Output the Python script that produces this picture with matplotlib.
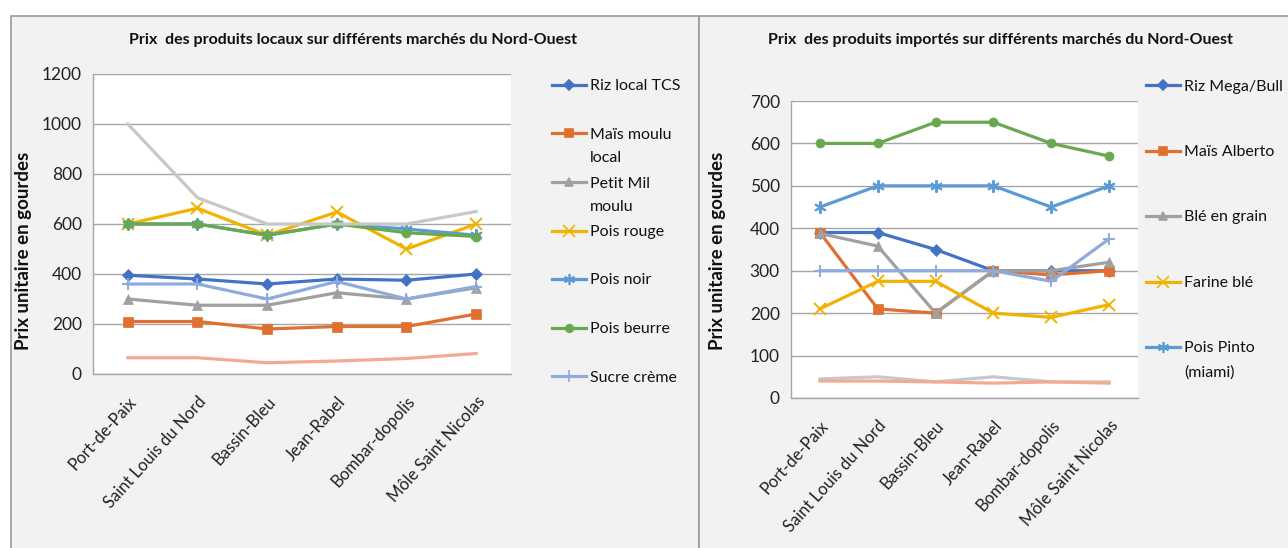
import numpy as np
import matplotlib.pyplot as plt
from matplotlib.patches import Rectangle
from matplotlib.lines import Line2D

plt.rcParams['font.family'] = ['Lato', 'DejaVu Sans']

marches = ['Port-de-Paix', 'Saint Louis du Nord', 'Bassin-Bleu', 'Jean-Rabel',
           'Bombar-dopolis', 'Môle Saint Nicolas']

# produits locaux
riz_local_tcs = [395, 380, 360, 380, 375, 400]
mais_moulu_local = [210, 210, 180, 190, 190, 240]
petit_mil_moulu = [300, 275, 275, 325, 300, 345]
pois_rouge = [600, 663, 555, 648, 500, 600]
pois_noir = [600, 600, 555, 600, 580, 555]
pois_beurre = [600, 600, 555, 600, 565, 550]
sucre_creme = [360, 360, 300, 370, 300, 350]
local_serie8 = [1000, 705, 600, 600, 600, 650]
local_serie9 = [65, 65, 45, 52, 62, 82]

# produits importes
riz_mega_bull = [390, 390, 350, 300, 300, 300]
mais_alberto = [390, 210, 200, 300, 290, 300]
ble_en_grain = [388, 358, 200, 300, 300, 320]
farine_ble = [210, 275, 275, 200, 190, 220]
pois_pinto = [450, 500, 500, 500, 450, 500]
import_serie6 = [600, 600, 650, 650, 600, 570]
import_serie7 = [300, 300, 300, 300, 275, 375]
import_serie8 = [45, 50, 38, 50, 38, 38]
import_serie9 = [40, 40, 38, 35, 38, 35]

BLUE = '#4472c4'
ORANGE = '#e07030'
GRAY = '#a0a0a0'
YELLOW = '#f2b200'
LBLUE = '#5b9bd5'
GREEN = '#6aa84f'
PALE = '#8faadc'
LGRAY = '#c8c8c8'
SALMON = '#f4aa90'

STAR = (6, 2, 0)

local_series = [
    ('Riz local TCS', riz_local_tcs, BLUE, 'D'),
    ('Maïs moulu\nlocal', mais_moulu_local, ORANGE, 's'),
    ('Petit Mil\nmoulu', petit_mil_moulu, GRAY, '^'),
    ('Pois rouge', pois_rouge, YELLOW, 'x'),
    ('Pois noir', pois_noir, LBLUE, STAR),
    ('Pois beurre', pois_beurre, GREEN, 'o'),
    ('Sucre crème', sucre_creme, PALE, '+'),
    (None, local_serie8, LGRAY, None),
    (None, local_serie9, SALMON, None),
]
import_series = [
    ('Riz Mega/Bull', riz_mega_bull, BLUE, 'D'),
    ('Maïs Alberto', mais_alberto, ORANGE, 's'),
    ('Blé en grain', ble_en_grain, GRAY, '^'),
    ('Farine blé', farine_ble, YELLOW, 'x'),
    ('Pois Pinto\n(miami)', pois_pinto, LBLUE, STAR),
    (None, import_serie6, GREEN, 'o'),
    (None, import_serie7, PALE, '+'),
    (None, import_serie8, LGRAY, None),
    (None, import_serie9, SALMON, None),
]

W, H = 1288, 548
fig = plt.figure(figsize=(W / 100, H / 100), dpi=100, facecolor='white')


def px(x, y, w, h):
    # pixel box (top-left origin) -> figure fraction
    return [x / W, 1 - (y + h) / H, w / W, h / H]


def msize(mk):
    return 6.5 if mk in ('D', 's', 'o', '^') else 9


# panel backgrounds
for x0, x1 in [(11, 699), (699, 1300)]:
    fig.patches.append(Rectangle((x0 / W, -0.1), (x1 - x0) / W, 1.1 - 16 / H,
                                 transform=fig.transFigure, facecolor='#f2f2f2',
                                 edgecolor='#9a9a9a', linewidth=1.2, zorder=-5))


def draw_chart(box, series, ymax, ystep, title, title_x, ylabel_x, leg_x, leg_y, leg_dy):
    ax = fig.add_axes(px(*box))
    ax.set_zorder(2)
    ax.set_facecolor('white')
    xs = np.arange(len(marches))
    for label, vals, color, mk in series:
        ax.plot(xs, vals, color=color, lw=2.3, marker=mk, markersize=msize(mk),
                markeredgewidth=1.4 if mk in ('x', '+', STAR) else 0.5,
                markeredgecolor=color, solid_joinstyle='round', zorder=3)
    ax.set_xlim(-0.5, len(marches) - 0.5)
    ax.set_ylim(0, ymax)
    ax.set_yticks(np.arange(0, ymax + 1, ystep))
    ax.grid(axis='y', color='#a6a6a6', lw=1.0)
    ax.set_axisbelow(True)
    for s in ['top', 'right']:
        ax.spines[s].set_visible(False)
    for s in ['left', 'bottom']:
        ax.spines[s].set_color('#a6a6a6')
        ax.spines[s].set_linewidth(1.0)
    ax.tick_params(length=0, labelsize=12.5, colors='#222222', pad=8)
    ax.set_xticks(xs)
    ax.set_xticklabels(marches, rotation=48, ha='right', rotation_mode='anchor',
                       fontsize=12)
    ax.tick_params(axis='x', pad=14)
    fig.text(title_x / W, 1 - 40 / H, title, ha='center', va='center',
             fontsize=11.5, fontweight='bold', color='#111111')
    fig.text(ylabel_x / W, 1 - 251 / H, 'Prix unitaire en gourdes',
             rotation=90, ha='center', va='center', fontsize=13.5, fontweight='bold',
             color='#111111')
    # legend
    k = 0
    for label, vals, color, mk in series:
        if label is None:
            continue
        y = 1 - (leg_y + k * leg_dy) / H
        fig.add_artist(Line2D([leg_x / W, (leg_x + 34) / W], [y, y], color=color,
                              lw=2.3, transform=fig.transFigure))
        fig.add_artist(Line2D([(leg_x + 17) / W], [y], color=color, marker=mk,
                              markersize=msize(mk) - 1, markeredgewidth=1.2,
                              transform=fig.transFigure))
        fig.text((leg_x + 38) / W, y + 5.5 / H, label, ha='left', va='top',
                 fontsize=11.5, color='#111111', linespacing=1.85)
        k += 1
    return ax


ax1 = draw_chart((93, 74, 418, 300), local_series, 1200, 200,
                 'Prix  des produits locaux sur différents marchés du Nord-Ouest',
                 353, 24, 552, 85, 48.5)
ax2 = draw_chart((791, 101, 347, 297), import_series, 700, 100,
                 'Prix  des produits importés sur différents marchés du Nord-Ouest',
                 1000, 718, 1146, 85, 65.5)

fig.savefig('out.png', dpi=100, facecolor=fig.get_facecolor())
